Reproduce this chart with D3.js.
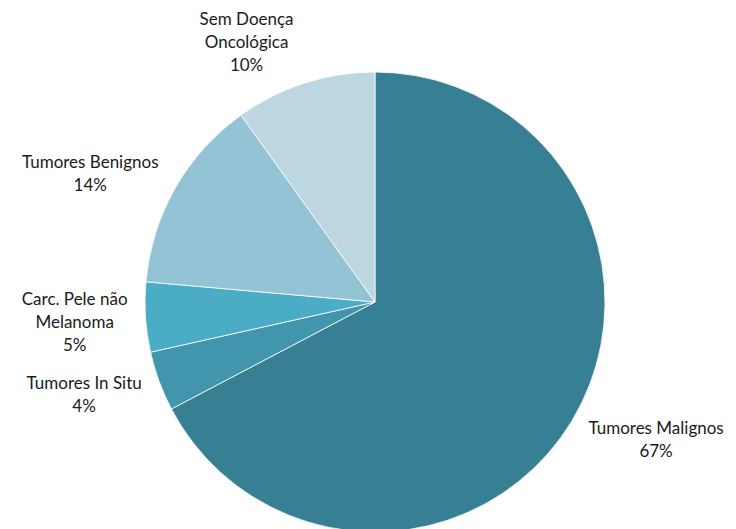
<!DOCTYPE html>
<html>
<head>
<meta charset="utf-8">
<script src="https://cdn.jsdelivr.net/npm/d3@7"></script>
<style>
  body { margin: 0; background: #fff; }
  text { font-family: Lato, "Open Sans", sans-serif; font-size: 17px; fill: #1a1a1a; }
</style>
</head>
<body>
<script>
// slices, clockwise from 12 o'clock
var categories = ["Tumores Malignos", "Tumores In Situ", "Carc. Pele não Melanoma", "Tumores Benignos", "Sem Doença Oncológica"];
var labelLines = [["Tumores Malignos"], ["Tumores In Situ"], ["Carc. Pele não", "Melanoma"], ["Tumores Benignos"], ["Sem Doença", "Oncológica"]];
var values = [67.3, 4.2, 4.9, 13.7, 9.9];
var colors = ["#377f93", "#4195ad", "#4bacc6", "#93c3d4", "#bcd7e2"];

var width = 736;
var height = 529;
var cx = 375, cy = 302, radius = 230;

var svg = d3.select("body")
  .append("svg")
  .attr("width", width)
  .attr("height", height);

var pie = d3.pie().sort(null).value(function(d) { return d; });
var arc = d3.arc().innerRadius(0).outerRadius(radius);

var arcs = pie(values);
var g = svg.append("g").attr("transform", "translate(" + cx + "," + cy + ")");

g.selectAll("path")
  .data(arcs)
  .enter()
  .append("path")
  .attr("d", arc)
  .style("fill", function(d, i) { return colors[i]; })
  .style("stroke", "#fff")
  .style("stroke-width", 0.8);

var total = d3.sum(values);
var lineH = 23;
var gap = 10;

// labels sit just outside the pie, pushed away from it by their own size
arcs.forEach(function(d, i) {
  var lines = labelLines[i].concat([Math.round(d.value / total * 100) + "%"]);
  var t = g.append("text").attr("text-anchor", "middle");
  lines.forEach(function(s, j) {
    t.append("tspan").attr("x", 0).attr("y", j * lineH).text(s);
  });
  var bb = t.node().getBBox();
  var mid = (d.startAngle + d.endAngle) / 2;
  var sx = Math.sin(mid), cy2 = Math.cos(mid);
  var px = sx * (radius + gap), py = -cy2 * (radius + gap);
  var w = bb.width, h = lines.length * lineH;
  var x = px + (sx < 0 ? -1 : 1) * (w / 2 + 8);
  var y = py - cy2 * h / 2 + 3;
  // shift so the block's vertical centre lands on y
  t.attr("transform", "translate(" + x + "," + (y - h / 2 + lineH * 0.7) + ")");
});
</script>
</body>
</html>
